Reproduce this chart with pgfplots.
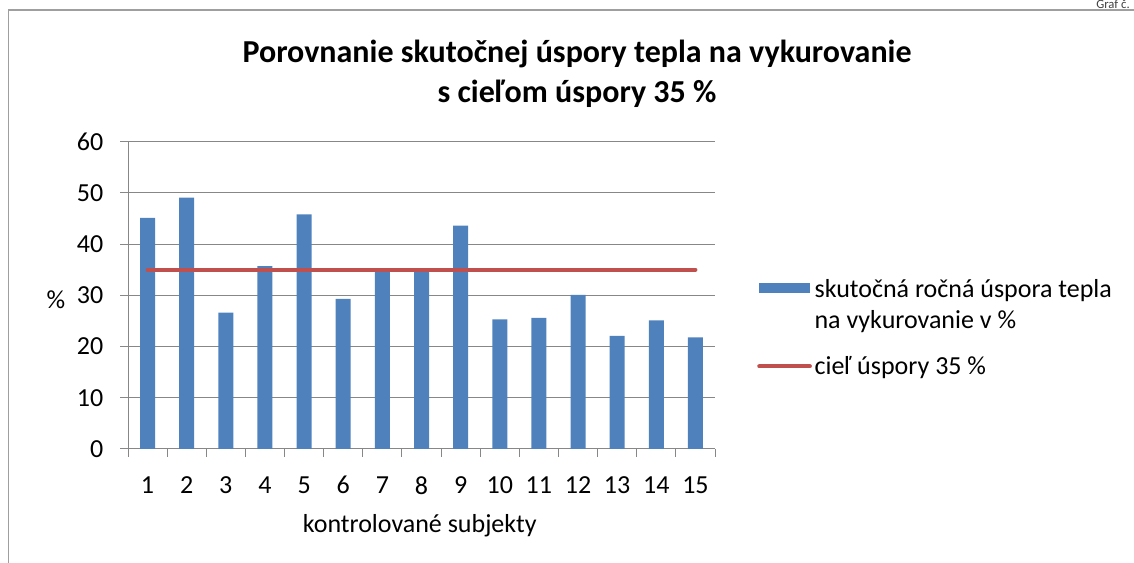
\documentclass[border=0pt]{standalone}
\usepackage{pgfplots}
\pgfplotsset{compat=1.18}
\usepackage{fontspec}
\setmainfont{Carlito}
\definecolor{barblue}{HTML}{4F81BD}
\definecolor{linered}{HTML}{C0504D}
\definecolor{gridgray}{HTML}{878787}
\begin{document}
\begin{tikzpicture}
\clip (0,0) rectangle (850.5pt,422.25pt);
\draw[gridgray!80, line width=0.9pt] (6.4pt,-10pt) -- (6.4pt,414.75pt) -- (870pt,414.75pt);
\node[font=\fontsize{24}{30}\selectfont\bfseries, align=center] at (432.75pt,366.75pt) {Porovnanie skutočnej úspory tepla na vykurovanie\\ s cieľom úspory 35 \%};
\node[anchor=base east, inner sep=0.5pt, font=\fontsize{9.5}{11}\selectfont, text=darkgray] at (848pt,415.6pt) {Graf č.};
\begin{axis}[
  at={(96pt,85.5pt)}, anchor=south west,
  width=440.25pt, height=230.5pt, scale only axis,
  xmin=0.5, xmax=15.5, ymin=0, ymax=60,
  xtick={1,...,15},
  major x tick style={draw=none},
  minor xtick={0.5,1.5,...,15.5},
  ytick={0,10,...,60},
  ymajorgrids,
  grid style={gridgray, line width=0.75pt},
  axis x line*=bottom, axis y line*=left,
  axis line style={-, gridgray, line width=0.75pt},
  tick style={gridgray, line width=0.75pt},
  tick align=outside,
  major tick length=6pt, minor tick length=6pt,
  /pgf/number format/assume math mode=true,
  ticklabel style={font=\fontsize{19.5}{22}\selectfont},
  xticklabel style={yshift=-11pt},
  yticklabel style={xshift=-9pt},
  xlabel={kontrolované subjekty},
  xlabel style={at={(axis description cs:0.497,-0.25)}, anchor=center, font=\fontsize{19.5}{22}\selectfont},
  ylabel={\%},
  ylabel style={at={(axis description cs:-0.123,0.485)}, anchor=center, rotate=-90, font=\fontsize{19.5}{22}\selectfont},
  legend style={at={(axis description cs:1.0715,0.5615)}, anchor=north west, draw=none, fill=none,
    font=\fontsize{19.5}{23.25}\selectfont, row sep=15.5pt, inner sep=0pt, cells={align=left}},
  legend cell align=left,
]
\addplot[ybar, bar width=11.25pt, bar shift=0pt, fill=barblue, draw=none,
  legend image code/.code={\fill[barblue] (0pt,9pt) rectangle (38pt,16.5pt);}]
  coordinates {(1,45.1) (2,49.1) (3,26.6) (4,35.7) (5,45.8) (6,29.3) (7,34.6) (8,34.6)
  (9,43.6) (10,25.3) (11,25.6) (12,30.1) (13,22.1) (14,25.1) (15,21.8)};
\addlegendentry{skutočná ročná úspora tepla\\na vykurovanie v \%}
\addplot[linered, line width=3pt, line cap=round,
  legend image code/.code={\draw[linered, line width=3pt] (0pt,0pt) -- (38pt,0pt);}]
  coordinates {(1,35) (15,35)};
\addlegendentry{cieľ úspory 35 \%}
\end{axis}
\end{tikzpicture}
\end{document}
